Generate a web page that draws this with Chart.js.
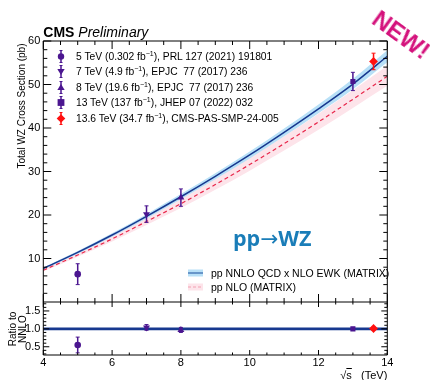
<!DOCTYPE html>
<html>
<head>
<meta charset="utf-8">
<script src="https://cdn.jsdelivr.net/npm/chart.js@4.4.1/dist/chart.umd.min.js"></script>
<style>
  body { margin: 0; background: #fff; }
  #wrap { position: relative; width: 430px; height: 380px; font-family: "Liberation Sans", Arial, sans-serif; color: #000; overflow: hidden; }
  canvas { position: absolute; left: 0; top: 0; }
  .txt { position: absolute; white-space: nowrap; line-height: 1; }
  #legend { position: absolute; left: 53.7px; top: 48.25px; font-size: 10.3px; }
  #legend .row { display: flex; align-items: center; height: 15.5px; }
  #legend span { white-space: pre; }
  #legend svg { width: 14px; height: 15px; margin-right: 8.3px; }
  sup { font-size: 7px; line-height: 0; vertical-align: 4px; }
  #theory { position: absolute; left: 188px; top: 266px; font-size: 10.5px; }
  #theory .row { display: flex; align-items: center; height: 13.7px; }
  #theory svg { width: 15px; height: 8px; margin-right: 8px; }
</style>
</head>
<body>
<div id="wrap">
  <canvas id="chart" width="430" height="380"></canvas>
  <div class="txt" style="left:43.3px; top:25.1px; font-size:14px;"><b>CMS</b> <i>Preliminary</i></div>
  <div id="legend"></div>
  <div id="theory"></div>
  <div class="txt" style="left:233px; top:227px; font-size:21.5px; font-weight:700; color:#1a7db8; font-family:'Open Sans', sans-serif;">pp<span style="font-weight:400; font-family:'DejaVu Sans';">→</span>WZ</div>
  <div class="txt" style="left:22px; top:106px; font-size:10px; transform:translate(-50%,-50%) rotate(-90deg);">Total WZ Cross Section (pb)</div>
  <div class="txt" style="left:17px; top:329px; font-size:10px; line-height:9.5px; text-align:center; transform:translate(-50%,-50%) rotate(-90deg);">Ratio to<br>NNLO</div>
  <div class="txt" style="right:42.7px; top:369.5px; font-size:11px;">√<span style="text-decoration:overline;">s</span>&nbsp;&nbsp;&nbsp;(TeV)</div>
  <div class="txt" style="left:400.7px; top:35px; font-size:24px; font-weight:700; color:#d4127c; transform:translate(-50%,-50%) rotate(36deg);">NEW!</div>
</div>
<script>
const energies = [5, 7, 8, 13, 13.6];
const lumis = ["0.302", "4.9", "19.6", "137", "34.7"];
const refs = ["PRL 127 (2021) 191801", "EPJC  77 (2017) 236", "EPJC  77 (2017) 236", "JHEP 07 (2022) 032", "CMS-PAS-SMP-24-005"];
const sigma = [6.4, 20.2, 24.0, 50.7, 55.3];
const sigmaErr = [2.4, 1.9, 2.0, 2.1, 1.9];
const ratio = [0.55, 1.04, 0.97, 1.0, 1.01];
const ratioErr = [0.22, 0.08, 0.07, 0.04, 0.04];

const theoryX = [4, 5, 6, 7, 8, 9, 10, 11, 12, 13, 14];
const nnlo = [7.7, 11.4, 15.4, 19.7, 24.2, 28.9, 33.8, 39.0, 44.4, 50.1, 56.5];
const nnloUp = [7.9, 11.7, 15.8, 20.2, 24.8, 29.6, 34.6, 39.9, 45.4, 51.3, 57.9];
const nnloDown = [7.5, 11.1, 15.0, 19.2, 23.6, 28.2, 33.0, 38.1, 43.4, 48.9, 55.1];
const nlo = [7.3, 10.8, 14.5, 18.5, 22.6, 27.0, 31.6, 36.4, 41.4, 46.6, 51.9];
const nloUp = [7.6, 11.3, 15.2, 19.4, 23.7, 28.3, 33.1, 38.1, 43.3, 48.7, 54.3];
const nloDown = [7.0, 10.4, 13.9, 17.7, 21.6, 25.8, 30.2, 34.8, 39.6, 44.6, 49.7];

const xTicks = [4, 6, 8, 10, 12, 14];
const yTicks = [10, 20, 30, 40, 50, 60];
const ratioTicks = [0.5, 1.0, 1.5];

const purple = "#4b1690";
const red = "#ff1010";
const navy = "#17388f";
const dashRed = "#e8264a";
const blueBand = "#b8e0f7";
const pinkBand = "#fde4ea";
const family = "'Liberation Sans', Arial, sans-serif";

// marker look for each measurement
const markers = [
  { style: "circle", rot: 0, r: 3.3, col: purple },
  { style: "triangle", rot: 180, r: 4, col: purple },
  { style: "triangle", rot: 0, r: 4, col: purple },
  { style: "rect", rot: 0, r: 3.6, col: purple },
  { style: "rectRot", rot: 0, r: 4.4, col: red },
];

function svgMarker(m) {
  let shape;
  if (m.style === "circle") shape = `<circle cx="7" cy="7.5" r="3.2" fill="${m.col}"/>`;
  else if (m.style === "triangle" && m.rot) shape = `<polygon points="3.3,5 10.7,5 7,11" fill="${m.col}"/>`;
  else if (m.style === "triangle") shape = `<polygon points="3.3,10 10.7,10 7,4" fill="${m.col}"/>`;
  else if (m.style === "rect") shape = `<rect x="3.6" y="4.1" width="6.8" height="6.8" fill="${m.col}"/>`;
  else shape = `<polygon points="7,3.2 11.3,7.5 7,11.8 2.7,7.5" fill="${m.col}"/>`;
  return `<svg viewBox="0 0 14 15"><line x1="7" y1="1.5" x2="7" y2="13.5" stroke="${m.col}" stroke-width="1.5"/>` +
    `<line x1="5.5" y1="1.5" x2="8.5" y2="1.5" stroke="${m.col}"/><line x1="5.5" y1="13.5" x2="8.5" y2="13.5" stroke="${m.col}"/>${shape}</svg>`;
}

document.getElementById("legend").innerHTML = energies.map((e, i) =>
  `<div class="row">${svgMarker(markers[i])}<span>${e} TeV (${lumis[i]} fb<sup>−1</sup>), ${refs[i]}</span></div>`
).join("");

document.getElementById("theory").innerHTML = `
  <div class="row"><svg viewBox="0 0 15 8"><rect x="0" y="0.5" width="15" height="7" fill="${blueBand}"/><line x1="0" y1="4" x2="15" y2="4" stroke="#3d6fb0" stroke-width="1.3"/></svg><span>pp NNLO QCD x NLO EWK (MATRIX)</span></div>
  <div class="row"><svg viewBox="0 0 15 8"><rect x="0" y="0.5" width="15" height="7" fill="${pinkBand}"/><line x1="0" y1="4" x2="15" y2="4" stroke="#f2a0b2" stroke-width="1" stroke-dasharray="3,2"/></svg><span>pp NLO (MATRIX)</span></div>`;

const curve = (ys) => theoryX.map((x, i) => ({ x, y: ys[i] }));

const markerSets = (ys, errs, axis) => energies.map((e, i) => ({
  data: [{ x: e, y: ys[i] }],
  errors: [errs[i]],
  yAxisID: axis,
  showLine: false,
  pointStyle: markers[i].style,
  rotation: markers[i].rot,
  pointRadius: markers[i].r,
  backgroundColor: markers[i].col,
  borderColor: markers[i].col,
  borderWidth: 0,
  order: 0,
}));

const line = (ys, extra) => Object.assign({
  data: curve(ys),
  yAxisID: "y",
  pointRadius: 0,
  borderWidth: 0,
  cubicInterpolationMode: "monotone",
  fill: false,
}, extra);

const errorBars = {
  id: "errorBars",
  afterDatasetsDraw(chart) {
    const { ctx, chartArea: a } = chart;
    chart.data.datasets.forEach((ds, di) => {
      if (!ds.errors) return;
      const sc = chart.scales[ds.yAxisID];
      const meta = chart.getDatasetMeta(di);
      ctx.save();
      ctx.beginPath();
      ctx.rect(a.left, sc.top, a.width, sc.bottom - sc.top);
      ctx.clip();
      ctx.strokeStyle = ds.borderColor;
      meta.data.forEach((pt, i) => {
        const v = ds.data[i].y;
        const y1 = sc.getPixelForValue(v + ds.errors[i]);
        const y2 = sc.getPixelForValue(v - ds.errors[i]);
        ctx.lineWidth = 1.5;
        ctx.beginPath();
        ctx.moveTo(pt.x, y1); ctx.lineTo(pt.x, y2);
        ctx.stroke();
        ctx.lineWidth = 1;
        ctx.beginPath();
        ctx.moveTo(pt.x - 2, y1); ctx.lineTo(pt.x + 2, y1);
        ctx.moveTo(pt.x - 2, y2); ctx.lineTo(pt.x + 2, y2);
        ctx.stroke();
      });
      ctx.restore();
    });
  },
};

// ROOT style frame with inward ticks on all sides
const frame = {
  id: "frame",
  afterDraw(chart) {
    const { ctx, chartArea: a, scales } = chart;
    const { x, y, yr } = scales;
    ctx.save();
    ctx.strokeStyle = "#000";
    ctx.lineWidth = 1;
    ctx.beginPath();
    ctx.rect(a.left, a.top, a.width, a.height);
    ctx.moveTo(a.left, y.bottom); ctx.lineTo(a.right, y.bottom);
    for (let v = 4; v <= 14.001; v += 0.5) {
      const px = x.getPixelForValue(v);
      const major = Math.abs(v % 2) < 1e-6;
      const lm = major ? 8 : 4, lr = major ? 5 : 2.5;
      ctx.moveTo(px, y.top); ctx.lineTo(px, y.top + lm);
      ctx.moveTo(px, y.bottom); ctx.lineTo(px, y.bottom - lm);
      ctx.moveTo(px, yr.top); ctx.lineTo(px, yr.top + lr);
      ctx.moveTo(px, yr.bottom); ctx.lineTo(px, yr.bottom - lr);
    }
    for (let v = 2; v <= 60; v += 2) {
      const py = y.getPixelForValue(v);
      const l = v % 10 === 0 ? 8 : 4;
      ctx.moveTo(a.left, py); ctx.lineTo(a.left + l, py);
      ctx.moveTo(a.right, py); ctx.lineTo(a.right - l, py);
    }
    for (let k = 3; k <= 17; k++) {
      const py = yr.getPixelForValue(k / 10);
      const l = k % 5 === 0 ? 6 : 3;
      ctx.moveTo(a.left, py); ctx.lineTo(a.left + l, py);
      ctx.moveTo(a.right, py); ctx.lineTo(a.right - l, py);
    }
    ctx.stroke();
    ctx.restore();
  },
};

const tickFont = { size: 11, family };
const axisBase = {
  grid: { display: false, drawTicks: false },
  border: { display: false },
};

new Chart(document.getElementById("chart"), {
  type: "line",
  data: {
    datasets: [
      ...markerSets(sigma, sigmaErr, "y"),
      ...markerSets(ratio, ratioErr, "yr"),
      line(nnlo, { borderColor: navy, borderWidth: 1.5, order: 1 }),
      line(nlo, { borderColor: dashRed, borderWidth: 1.2, borderDash: [4, 3], order: 2 }),
      line(nnloUp, { fill: "+1", backgroundColor: blueBand, order: 4 }),
      line(nnloDown, { order: 4 }),
      line(nloUp, { fill: "+1", backgroundColor: pinkBand, order: 5 }),
      line(nloDown, { order: 5 }),
      { data: [{ x: 4, y: 1 }, { x: 14, y: 1 }], yAxisID: "yr", borderColor: navy, borderWidth: 2.8, pointRadius: 0, order: 1 },
    ],
  },
  options: {
    responsive: false,
    animation: false,
    layout: { padding: { top: 41, right: 42.7, left: 0, bottom: 0 } },
    plugins: { legend: { display: false }, tooltip: { enabled: false } },
    scales: {
      x: {
        ...axisBase,
        type: "linear",
        min: 4,
        max: 14,
        afterBuildTicks: (s) => { s.ticks = xTicks.map((v) => ({ value: v })); },
        afterFit: (s) => { s.height = 25; },
        ticks: { color: "#000", font: tickFont, padding: 1, maxRotation: 0, autoSkip: false },
      },
      y: {
        ...axisBase,
        position: "left",
        stack: "panels",
        stackWeight: 261,
        weight: 2,
        min: 0,
        max: 60,
        afterBuildTicks: (s) => { s.ticks = yTicks.map((v) => ({ value: v })); },
        afterFit: (s) => { s.width = 43.3; },
        ticks: { color: "#000", font: tickFont, padding: 3, autoSkip: false },
      },
      yr: {
        ...axisBase,
        position: "left",
        stack: "panels",
        stackWeight: 53,
        weight: 1,
        min: 0.27,
        max: 1.75,
        afterBuildTicks: (s) => { s.ticks = ratioTicks.map((v) => ({ value: v })); },
        afterFit: (s) => { s.width = 43.3; },
        ticks: { color: "#000", font: tickFont, padding: 3, autoSkip: false, callback: (v) => v.toFixed(1) },
      },
    },
  },
  plugins: [errorBars, frame],
});
</script>
</body>
</html>
